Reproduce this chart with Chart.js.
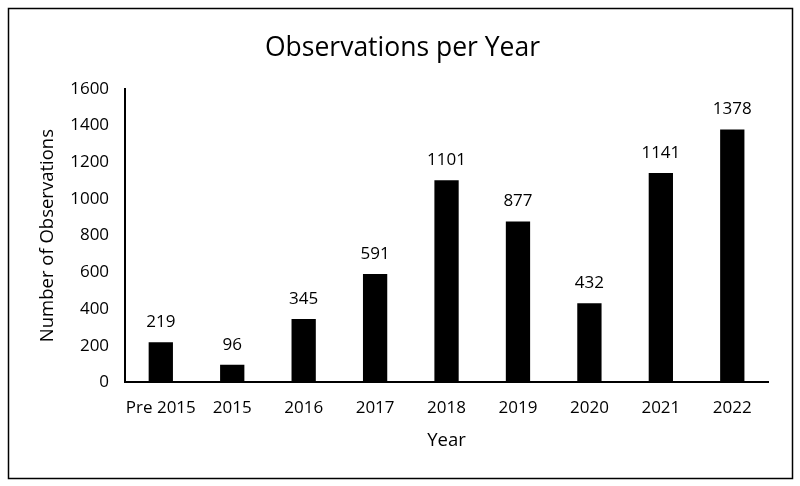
<!DOCTYPE html>
<html>
<head>
<meta charset="utf-8">
<script src="https://cdn.jsdelivr.net/npm/chart.js@4.4.0/dist/chart.umd.min.js"></script>
<style>
  html, body { margin: 0; padding: 0; background: #fff; }
  #wrap { width: 800px; height: 486px; }
</style>
</head>
<body>
<div id="wrap"><canvas id="visu" width="800" height="486"></canvas></div>
<script>
// valeurs
const years = ['Pre 2015', '2015', '2016', '2017', '2018', '2019', '2020', '2021', '2022'];
const observations = [219, 96, 345, 591, 1101, 877, 432, 1141, 1378];
const yTicks = [0, 200, 400, 600, 800, 1000, 1200, 1400, 1600];

const fontFamily = "'Open Sans', 'Noto Sans', sans-serif";

// cadre autour du graphique + étiquettes au-dessus des barres
const frameAndLabels = {
    id: 'frameAndLabels',
    beforeDraw(chart) {
        const ctx = chart.ctx;
        ctx.save();
        ctx.fillStyle = '#fff';
        ctx.fillRect(0, 0, chart.width, chart.height);
        ctx.strokeStyle = '#000';
        ctx.lineWidth = 1.5;
        ctx.strokeRect(8.5, 8.5, 784, 470);
        ctx.restore();
    },
    afterDatasetsDraw(chart) {
        const ctx = chart.ctx;
        const meta = chart.getDatasetMeta(0);
        ctx.save();
        ctx.fillStyle = '#000';
        ctx.font = '17px ' + fontFamily;
        ctx.textAlign = 'center';
        ctx.textBaseline = 'middle';
        meta.data.forEach((bar, i) => {
            ctx.fillText(String(observations[i]), bar.x, bar.y - 20);
        });
        ctx.restore();
    }
};

const config = {
    type: 'bar',
    data: {
        labels: years,
        datasets: [{
            data: observations,
            backgroundColor: '#000',
            borderWidth: 0,
            categoryPercentage: 1,
            barPercentage: 0.34
        }]
    },
    options: {
        responsive: false,
        animation: false,
        layout: {
            padding: { left: 37, right: 32, top: 16, bottom: 32 }
        },
        plugins: {
            legend: { display: false },
            tooltip: { enabled: false },
            title: {
                display: true,
                text: 'Observations per Year',
                color: '#000',
                font: { family: fontFamily, size: 26.5, weight: 'normal' },
                padding: { top: 17, bottom: 24 }
            }
        },
        scales: {
            x: {
                grid: { display: false, drawTicks: false },
                border: { display: true, color: '#000', width: 2 },
                ticks: {
                    color: '#000',
                    font: { family: fontFamily, size: 17 },
                    padding: 16,
                    maxRotation: 0,
                    autoSkip: false
                },
                title: {
                    display: true,
                    text: 'Year',
                    color: '#000',
                    font: { family: fontFamily, size: 18.5 },
                    padding: { top: -5, bottom: 2 }
                }
            },
            y: {
                min: 0,
                max: 1600,
                afterBuildTicks: (axis) => {
                    axis.ticks = yTicks.map(v => ({ value: v }));
                },
                grid: { display: false, drawTicks: false },
                border: { display: true, color: '#000', width: 2 },
                ticks: {
                    color: '#000',
                    font: { family: fontFamily, size: 17 },
                    padding: 16,
                    callback: (v) => String(v)
                },
                title: {
                    display: true,
                    text: 'Number of Observations',
                    color: '#000',
                    font: { family: fontFamily, size: 18.5 },
                    padding: { top: 0, bottom: -5 }
                }
            }
        }
    },
    plugins: [frameAndLabels]
};

const canvas = document.getElementById('visu');
const ctx = canvas.getContext('2d');
const currentChart = new Chart(ctx, config);
</script>
</body>
</html>
